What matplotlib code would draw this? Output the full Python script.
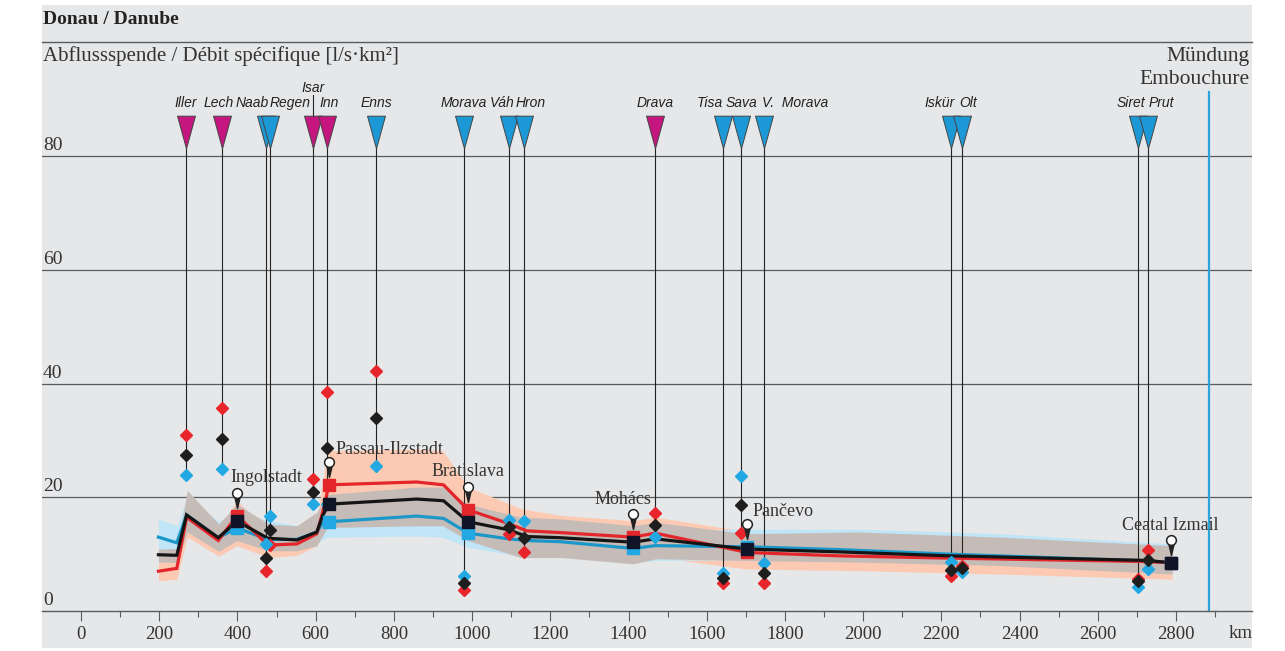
import matplotlib
matplotlib.use('Agg')
import matplotlib.pyplot as plt
from matplotlib.patches import Rectangle
from matplotlib.path import Path
import matplotlib.transforms as mtransforms
import numpy as np

# ---------------- data ----------------
line_km = [198, 245, 270, 351, 399, 478, 552, 603, 618, 634, 858, 927, 990, 1093, 1140,
           1225, 1412, 1468, 1704, 1941, 2222, 2725, 2787]
red_line = [7.0, 7.5, 16.5, 12.4, 16.8, 11.6, 11.8, 13.6, 17.4, 22.2, 22.7, 22.2, 17.8, 15.4,
            14.1, 13.8, 13.0, 13.7, 10.3, 9.7, 9.3, 8.7, 8.5]
black_line = [9.9, 9.8, 16.9, 12.9, 15.8, 12.8, 12.5, 13.9, 16.8, 18.8, 19.7, 19.4, 15.7, 14.3,
              13.1, 12.9, 12.1, 12.7, 10.9, 10.4, 9.7, 8.9, 8.5]
blue_line = [13.0, 12.0, 16.9, 12.9, 14.6, 12.6, 12.6, 13.9, 15.5, 15.7, 16.7, 16.3, 13.7, 12.7,
             12.4, 12.2, 11.0, 11.5, 11.3, 10.8, 10.0, 8.8, 8.5]

band_km = [198, 245, 272, 352, 399, 480, 552, 603, 630, 860, 925, 990, 1125, 1230, 1412,
           1470, 1700, 1990, 2350, 2790]
red_lo = [5.3, 5.6, 13.0, 9.7, 11.5, 9.4, 9.8, 11.5, 16.0, 16.5, 16.0, 13.0, 10.5, 10.0, 9.0,
          9.5, 7.4, 7.1, 6.5, 5.6]
red_hi = [8.5, 9.0, 19.0, 14.5, 19.4, 14.0, 14.0, 16.0, 28.2, 28.5, 28.2, 21.8, 18.0, 16.8, 15.9,
          16.5, 14.0, 13.5, 13.0, 11.5]
black_lo = [8.6, 8.6, 13.9, 10.5, 12.4, 10.6, 10.6, 11.5, 14.7, 15.0, 15.0, 12.4, 9.4, 9.4, 8.3,
            9.2, 8.9, 8.6, 8.0, 6.5]
black_hi = [10.9, 11.0, 21.2, 15.3, 18.8, 15.3, 15.0, 17.4, 20.5, 21.8, 21.8, 18.8, 16.5, 16.2,
            15.0, 15.6, 13.6, 13.9, 13.0, 11.5]
blue_lo = [9.5, 9.0, 14.0, 11.0, 12.5, 11.0, 11.0, 12.0, 13.0, 13.2, 13.0, 11.2, 9.6, 9.5, 8.5,
           8.9, 9.0, 8.8, 8.3, 7.0]
blue_hi = [16.2, 15.0, 20.0, 15.8, 17.0, 16.0, 15.0, 17.0, 18.5, 19.0, 19.0, 16.0, 14.5, 14.0,
           13.5, 14.0, 14.4, 14.4, 13.6, 11.8]

tributaries = ['Iller', 'Lech', 'Naab', 'Regen', 'Isar', 'Inn', 'Enns', 'Morava', 'Váh', 'Hron',
               'Drava', 'Tisa', 'Sava', 'V.  Morava', 'Iskür', 'Olt', 'Siret', 'Prut']
trib_km = [268, 360, 473, 483, 593, 629, 754, 980, 1095, 1133, 1468, 1642, 1688, 1747,
           2225, 2253, 2703, 2729]
trib_alpine = [True, True, False, False, True, True, False, False, False, False,
               True, False, False, False, False, False, False, False]
trib_red = [31.0, 35.8, 7.0, 11.6, 23.2, 38.6, 42.3, 3.7, 13.5, 10.4, 17.3, 4.9, 13.7, 4.9,
            6.1, 8.0, 5.6, 10.8]
trib_black = [27.5, 30.3, 9.4, 14.3, 21.0, 28.7, 33.9, 4.9, 14.8, 12.9, 15.2, 5.8, 18.7, 6.7,
              7.3, 7.5, 5.2, 9.0]
trib_blue = [24.0, 25.0, 11.8, 16.8, 18.8, 18.8, 25.6, 6.1, 16.1, 15.9, 13.0, 6.6, 23.7, 8.5,
             8.7, 6.8, 4.3, 7.4]

stations = ['Ingolstadt', 'Passau-Ilzstadt', 'Bratislava', 'Mohács', 'Pančevo', 'Ceatal Izmail']
station_km = [399, 634, 990, 1412, 1704, 2787]
station_red = [16.8, 22.2, 17.8, 13.0, 10.3, 8.5]
station_black = [15.8, 18.8, 15.7, 12.1, 10.9, 8.5]
station_blue = [14.6, 15.7, 13.7, 11.0, 11.3, 8.5]

xtick_vals = list(range(0, 2801, 200))
ytick_vals = [0, 20, 40, 60, 80]
mouth_km = 2885

# ---------------- styling ----------------
W, H = 1285, 651
plt.rcParams['font.family'] = ['Liberation Serif', 'DejaVu Serif']

C_RED = '#e3262b'
C_BLACK = '#151515'
C_BLUE = '#1b97c9'
C_DRED = '#e8252a'
C_DBLUE = '#22a8e2'
C_MAG = '#c4167e'
C_TBLUE = '#1d98d6'
C_SALMON = '#fccab2'
C_GREYB = '#c5bbb7'
C_LBLUE = '#bfe5f6'
C_GRID = '#5a5b5d'
BG = '#e6e7e9'

fig = plt.figure(figsize=(W / 100, H / 100), dpi=100)
fig.patch.set_facecolor('white')
bg = Rectangle((42 / W, 1 - 648 / H), 1210 / W, 643 / H, transform=fig.transFigure,
               facecolor=BG, edgecolor='none')
bg.set_zorder(-10)
fig.add_artist(bg)

ax_l, ax_r, ax_t, ax_b = 42, 1252, 42, 611
ax = fig.add_axes([ax_l / W, 1 - ax_b / H, (ax_r - ax_l) / W, (ax_b - ax_t) / H])
ax.set_zorder(1)
ax.set_facecolor('none')
pxkm = 1095 / 2800.0
pxv = 5.683
ax.set_xlim((ax_l - 81) / pxkm, (ax_r - 81) / pxkm)
ax.set_ylim(0, (ax_b - ax_t) / pxv)

def kx(px):
    return (px - 81) / pxkm

def vy(py):
    return (ax_b - py) / pxv

for s in ['left', 'right']:
    ax.spines[s].set_visible(False)
ax.spines['top'].set_color(C_GRID)
ax.spines['top'].set_linewidth(1.0)
ax.spines['bottom'].set_color(C_GRID)
ax.spines['bottom'].set_linewidth(1.0)
ax.set_yticks([])

ax.set_xticks(xtick_vals)
ax.set_xticklabels([str(v) for v in xtick_vals], fontsize=13.5, color='#333333')
ax.set_xticks(list(range(100, 2901, 200)), minor=True)
ax.tick_params(axis='x', which='major', direction='out', length=7, width=0.8, color=C_GRID, pad=3.5)
ax.tick_params(axis='x', which='minor', direction='out', length=4, width=0.8, color=C_GRID)

for v in ytick_vals[1:]:
    ax.axhline(v, color=C_GRID, lw=0.9, zorder=1)
for v in ytick_vals:
    ax.text(kx(43), v + 0.35, str(v), ha='left', va='bottom', fontsize=14, color='#333333')

# texts
fig.text(43 / W, 1 - 20 / H, 'Donau / Danube', fontsize=14, fontweight='bold',
         ha='left', va='center', color='#222222')
fig.text(43 / W, 1 - 56 / H, 'Abflussspende / Débit spécifique [l/s·km²]', fontsize=15,
         ha='left', va='center', color='#333333')
fig.text(1250 / W, 1 - 57 / H, 'Mündung', fontsize=15.5, ha='right', va='center', color='#333333')
fig.text(1250 / W, 1 - 80 / H, 'Embouchure', fontsize=15.5, ha='right', va='center', color='#333333')
fig.text(1241 / W, 1 - 633 / H, 'km', fontsize=13.5, ha='center', va='center', color='#333333')

# mouth line
ax.plot([mouth_km, mouth_km], [0, vy(92)], color='#2aa5dc', lw=1.6, zorder=2)

# bands
ax.fill_between(band_km, red_lo, red_hi, color=C_SALMON, lw=0, zorder=2)
ax.fill_between(band_km, blue_lo, blue_hi, color=C_LBLUE, lw=0, zorder=2.1)
ax.fill_between(band_km, black_lo, black_hi, color=C_GREYB, lw=0, zorder=2.2)

# lines
ax.plot(line_km, blue_line, color=C_BLUE, lw=2.3, zorder=4, solid_joinstyle='miter')
ax.plot(line_km, red_line, color=C_RED, lw=2.3, zorder=4.1, solid_joinstyle='miter')
ax.plot(line_km, black_line, color=C_BLACK, lw=2.3, zorder=4.2, solid_joinstyle='miter')

# tributaries
tri = Path([(-0.55, 1), (0.55, 1), (0, -1), (-0.55, 1)],
           [Path.MOVETO, Path.LINETO, Path.LINETO, Path.CLOSEPOLY])
tri_top, tri_tip = vy(115), vy(148)
label_px = [186, 219, 252, 290, 313, 329, 376, 464, 502, 531, 655, 710, 741, 762, 940, 968, 1131, 1161]
for i, name in enumerate(tributaries):
    k = trib_km[i]
    lo = min(trib_red[i], trib_black[i], trib_blue[i])
    top = vy(95) if name == 'Isar' else tri_tip
    ax.plot([k, k], [lo, top], color='#222222', lw=0.8, zorder=3)
    ax.plot([k], [(tri_top + tri_tip) / 2], marker=tri, ms=23.5,
            markerfacecolor=C_MAG if trib_alpine[i] else C_TBLUE,
            markeredgecolor='#444444', markeredgewidth=0.7, ls='none', zorder=5)
    ly = vy(88) if name == 'Isar' else vy(103)
    ha = 'left' if name.startswith('V.') else 'center'
    ax.text(kx(label_px[i]), ly, name, ha=ha, va='center', fontsize=10, style='italic',
            family=['Liberation Sans Narrow', 'Liberation Sans'], color='#222222', zorder=6)

ax.plot(trib_km, trib_red, ls='none', marker='D', ms=6.5, color=C_DRED, zorder=6)
ax.plot(trib_km, trib_blue, ls='none', marker='D', ms=6.5, color=C_DBLUE, zorder=6.1)
ax.plot(trib_km, trib_black, ls='none', marker='D', ms=6.5, color='#1e1e1e', zorder=6.2)

# stations
ax.plot(station_km, station_red, ls='none', marker='s', ms=9, color=C_RED, zorder=7)
ax.plot(station_km, station_blue, ls='none', marker='s', ms=9, color=C_DBLUE, zorder=7.1)
ax.plot(station_km, station_black, ls='none', marker='s', ms=9, color='#0f1426', zorder=7.2)

spike = Path([(-3.5, 0), (3.5, 0), (0, -15), (-3.5, 0)],
             [Path.MOVETO, Path.LINETO, Path.LINETO, Path.CLOSEPOLY])
pin_tr = mtransforms.offset_copy(ax.transData, fig=fig, x=0, y=23 * 0.72, units='points')
for i in range(len(stations)):
    top = max(station_red[i], station_black[i], station_blue[i])
    ax.plot([station_km[i]], [top], marker=spike, ms=30 * 0.72, color='#222222', ls='none',
            transform=pin_tr, zorder=8)
    ax.plot([station_km[i]], [top], marker='o', ms=7, markerfacecolor='white',
            markeredgecolor='#222222', markeredgewidth=1.1, ls='none', transform=pin_tr, zorder=8.1)

st_lab = [(266, 478, 'center'), (336, 449, 'left'), (468, 471, 'center'), (623, 500, 'center'),
          (753, 512, 'left'), (1170, 525, 'center')]
for i, name in enumerate(stations):
    px, py, ha = st_lab[i]
    ax.text(kx(px), vy(py), name, ha=ha, va='center', fontsize=13, color='#333333', zorder=9)

fig.savefig('out.png', dpi=100, facecolor='white')
